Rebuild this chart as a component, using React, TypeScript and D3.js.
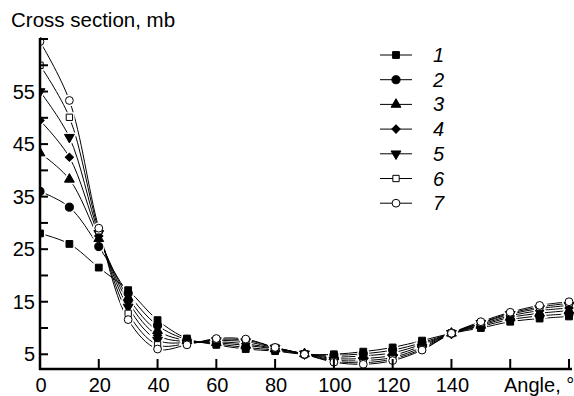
import React, { useEffect, useRef } from "react";
import * as d3 from "d3";

// angles (deg) at which cross sections are given
const angles = [0, 10, 20, 30, 40, 50, 60, 70, 80, 90, 100, 110, 120, 130, 140, 150, 160, 170, 180];

const s1 = [28, 26, 21.5, 17.2, 11.5, 8, 6.8, 6, 5.6, 5, 5, 5.5, 6.3, 7.6, 9, 10, 11.2, 11.8, 12.2];
const s2 = [36, 33, 25.5, 16.6, 10.5, 7.8, 7, 6.3, 5.8, 5, 4.8, 5.1, 5.8, 7.2, 9, 10.3, 11.6, 12.3, 12.7];
const s3 = [43.3, 38.3, 27, 15.8, 9.5, 7.6, 7.2, 6.7, 6, 5.1, 4.5, 4.7, 5.3, 6.9, 9, 10.5, 12, 12.8, 13.3];
const s4 = [49.5, 42.5, 27.5, 15, 8.6, 7.4, 7.4, 7, 6.1, 5.1, 4.2, 4.2, 4.8, 6.6, 9, 10.7, 12.3, 13.3, 13.8];
const s5 = [55, 46.3, 28, 14, 7.7, 7.2, 7.6, 7.4, 6.2, 5.1, 3.9, 3.8, 4.4, 6.3, 9, 10.9, 12.6, 13.7, 14.3];
const s6 = [60, 50.1, 28.5, 12.8, 6.8, 7, 7.8, 7.7, 6.3, 5, 3.7, 3.4, 4.1, 6, 9, 11, 12.8, 14, 14.7];
const s7 = [64.5, 53.3, 29, 11.6, 6, 6.8, 8, 7.9, 6.3, 5, 3.5, 3.1, 3.8, 5.8, 9, 11.2, 13, 14.3, 15];

const seriesNames = ["1", "2", "3", "4", "5", "6", "7"];
const seriesValues = [s1, s2, s3, s4, s5, s6, s7];

const yTicks = [5, 10, 15, 20, 25, 30, 35, 40, 45, 50, 55, 60, 65];
const yLabels = [5, 15, 25, 35, 45, 55];
const xTicks = [0, 20, 40, 60, 80, 100, 120, 140, 160, 180];
const xLabels = [0, 20, 40, 60, 80, 100, 120, 140];

// marker per series: [symbol, filled, rotate, size]
const markers: [d3.SymbolType, boolean, number, number][] = [
  [d3.symbolSquare, true, 0, 46],
  [d3.symbolCircle, true, 0, 52],
  [d3.symbolTriangle, true, 0, 42],
  [d3.symbolSquare, true, 45, 34],
  [d3.symbolTriangle, true, 180, 42],
  [d3.symbolSquare, false, 0, 40],
  [d3.symbolCircle, false, 0, 48],
];

const FONT = "'Liberation Sans', Arial, sans-serif";

export default function App() {
  const svgRef = useRef<SVGSVGElement>(null);

  useEffect(() => {
    const svg = d3.select(svgRef.current);
    svg.selectAll("*").remove();

    const x = d3.scaleLinear().domain([0, 180]).range([40, 569]);
    const y = d3.scaleLinear().domain([2.2, 65]).range([369, 39]);

    svg
      .append("defs")
      .append("clipPath")
      .attr("id", "plot")
      .append("rect")
      .attr("x", 40)
      .attr("y", 0)
      .attr("width", 534)
      .attr("height", 369);

    const plot = svg.append("g").attr("clip-path", "url(#plot)");

    const line = d3
      .line<number>()
      .x((d, i) => x(angles[i]))
      .y((d) => y(d))
      .curve(d3.curveCatmullRom);

    seriesValues.forEach((vals) => {
      plot
        .append("path")
        .attr("d", line(vals))
        .attr("fill", "none")
        .attr("stroke", "#000")
        .attr("stroke-width", 1);
    });

    const symPath = (k: number) => d3.symbol().type(markers[k][0]).size(markers[k][3])()!;

    // white halos make the gaps in the lines around symbols
    seriesValues.forEach((vals, k) => {
      plot
        .selectAll(null)
        .data(vals)
        .enter()
        .append("path")
        .attr("d", symPath(k))
        .attr("transform", (d, i) => `translate(${x(angles[i])},${y(d)}) rotate(${markers[k][2]})`)
        .attr("fill", "#fff")
        .attr("stroke", "#fff")
        .attr("stroke-width", 4);
    });

    seriesValues.forEach((vals, k) => {
      plot
        .selectAll(null)
        .data(vals)
        .enter()
        .append("path")
        .attr("d", symPath(k))
        .attr("transform", (d, i) => `translate(${x(angles[i])},${y(d)}) rotate(${markers[k][2]})`)
        .attr("fill", markers[k][1] ? "#000" : "#fff")
        .attr("stroke", "#000")
        .attr("stroke-width", 1);
    });

    // axes
    const ax = svg.append("g").attr("stroke", "#000");
    ax.append("line").attr("x1", 40).attr("x2", 40).attr("y1", y(65) - 1).attr("y2", 370).attr("stroke-width", 2.5);
    ax.append("line").attr("x1", 39).attr("x2", 572).attr("y1", 369).attr("y2", 369).attr("stroke-width", 2.5);

    ax.selectAll(null)
      .data(yTicks)
      .enter()
      .append("line")
      .attr("x1", 40)
      .attr("x2", 48)
      .attr("y1", (d) => y(d))
      .attr("y2", (d) => y(d))
      .attr("stroke-width", 2);

    ax.selectAll(null)
      .data(xTicks)
      .enter()
      .append("line")
      .attr("x1", (d) => x(d))
      .attr("x2", (d) => x(d))
      .attr("y1", 369)
      .attr("y2", 359)
      .attr("stroke-width", 2);

    const txt = svg.append("g").attr("font-family", FONT).attr("font-size", 20).attr("fill", "#000");

    txt
      .selectAll(null)
      .data(yLabels)
      .enter()
      .append("text")
      .attr("x", 35)
      .attr("y", (d) => y(d) + 7)
      .attr("text-anchor", "end")
      .text((d) => d);

    txt
      .selectAll(null)
      .data(xLabels)
      .enter()
      .append("text")
      .attr("x", (d) => x(d) + 1)
      .attr("y", 392)
      .attr("text-anchor", "middle")
      .text((d) => d);

    txt.append("text").attr("x", 504).attr("y", 392).text("Angle, °");
    txt.append("text").attr("x", 11).attr("y", 27).attr("font-size", 20.5).text("Cross section, mb");

    // legend
    const leg = svg.append("g");
    seriesNames.forEach((name, k) => {
      const ly = 55 + k * 24.7;
      leg.append("line").attr("x1", 380).attr("x2", 412).attr("y1", ly).attr("y2", ly).attr("stroke", "#000").attr("stroke-width", 1);
      leg
        .append("path")
        .attr("d", symPath(k))
        .attr("transform", `translate(396,${ly}) rotate(${markers[k][2]})`)
        .attr("fill", markers[k][1] ? "#000" : "#fff")
        .attr("stroke", "#000")
        .attr("stroke-width", 1);
      leg
        .append("text")
        .attr("x", 433)
        .attr("y", ly + 7)
        .attr("font-family", FONT)
        .attr("font-size", 20)
        .attr("font-style", "italic")
        .text(name);
    });
  }, []);

  return (
    <div>
      <svg ref={svgRef} width={574} height={396} style={{ display: "block", position: "absolute", left: 0, top: 0, background: "#fff" }} />
    </div>
  );
}
